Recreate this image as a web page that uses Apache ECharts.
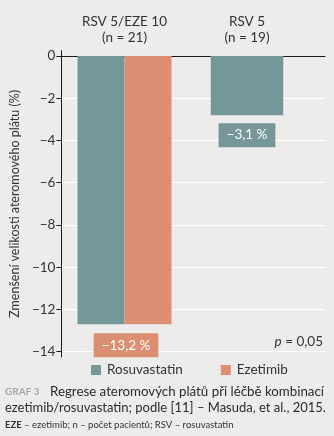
<!DOCTYPE html>
<html>
<head>
<meta charset="utf-8">
<script src="https://cdn.jsdelivr.net/npm/echarts@6/dist/echarts.min.js"></script>
<style>
html,body{margin:0;padding:0;background:#eeeceb;}
#c{width:334px;height:436px;}
</style>
</head>
<body>
<div id="c"></div>
<script>
const categories = ['RSV 5/EZE 10', 'RSV 5'];
const groupSizes = ['(n = 21)', '(n = 19)'];
const rosuvastatin = [-12.7, -2.8];
const ezetimib = [-12.7, null];
const valueLabels = ['−13,2 %', '−3,1 %'];
const yTicks = [0, -2, -4, -6, -8, -10, -12, -14];
const pValue = '0,05';

const TEAL = '#76979a';
const SALMON = '#dc8e72';
const FONT = 'Lato';
const yMin = -14.25, yMax = 0.25;
const gridTop = 50.7, gridBottom = 79;

const chart = echarts.init(document.getElementById('c'));
const minus = v => String(v).replace('-', '−');

chart.setOption({
  backgroundColor: '#eeeceb',
  textStyle: {fontFamily: FONT},
  animation: false,
  grid: [
    {left: 60, right: 9, top: gridTop, bottom: gridBottom, containLabel: false},
    {left: 63.25, right: 25.75, top: gridTop, bottom: gridBottom, containLabel: false}
  ],
  xAxis: [
    {gridIndex: 0, type: 'category', data: categories,
     axisLine: {onZero: true, lineStyle: {color: '#1a1a1a', width: 1}},
     axisTick: {show: false}, axisLabel: {show: false}, splitLine: {show: false}},
    {gridIndex: 1, type: 'category', data: categories, position: 'top',
     axisLine: {show: false}, axisTick: {show: false},
     axisLabel: {margin: 5, color: '#333', fontSize: 13.5, lineHeight: 16, fontFamily: FONT,
       formatter: (v, i) => v + '\n' + groupSizes[i]}},
    {gridIndex: 1, type: 'category', data: categories, show: false}
  ],
  yAxis: [
    {gridIndex: 0, type: 'value', min: yMin, max: yMax,
     name: 'Zmenšení velikosti ateromového plátu (%)', nameLocation: 'middle', nameGap: 39,
     nameTextStyle: {fontSize: 12.5, color: '#333', fontFamily: FONT},
     axisLine: {show: true, onZero: false, lineStyle: {color: '#1a1a1a', width: 1}},
     axisTick: {show: true, customValues: yTicks, length: 5, lineStyle: {color: '#1a1a1a'}},
     axisLabel: {customValues: yTicks, formatter: minus, color: '#333', fontSize: 13.5, margin: 6, fontFamily: FONT},
     splitLine: {show: true, lineStyle: {color: '#ffffff', width: 1}}},
    {gridIndex: 1, type: 'value', min: yMin, max: yMax, show: false, splitLine: {show: false}}
  ],
  legend: {
    data: ['Rosuvastatin', 'Ezetimib'],
    left: 86, top: 358, icon: 'rect', itemWidth: 10, itemHeight: 10, itemGap: 38,
    textStyle: {fontSize: 13.5, color: '#333', fontFamily: FONT, padding: [0, 0, 0, 1]},
    selectedMode: false
  },
  series: [
    {name: 'Rosuvastatin', type: 'bar', xAxisIndex: 1, yAxisIndex: 1,
     data: [rosuvastatin[0], '-'], barWidth: 47, barGap: '0%',
     itemStyle: {color: TEAL}},
    {name: 'Ezetimib', type: 'bar', xAxisIndex: 1, yAxisIndex: 1,
     data: [ezetimib[0], '-'], barWidth: 47, barGap: '0%',
     itemStyle: {color: SALMON},
     label: {show: true, position: 'bottom', distance: 9, offset: [-22, 0],
       formatter: p => valueLabels[p.dataIndex],
       color: '#fff', fontSize: 13.5, fontFamily: FONT,
       backgroundColor: SALMON, padding: [5, 8, 5, 8]}},
    {name: 'Rosuvastatin', type: 'bar', xAxisIndex: 2, yAxisIndex: 1,
     data: ['-', rosuvastatin[1]], barWidth: 72.5,
     itemStyle: {color: TEAL},
     label: {show: true, position: 'bottom', distance: 8,
       formatter: p => valueLabels[p.dataIndex],
       color: '#fff', fontSize: 13.5, fontFamily: FONT,
       backgroundColor: TEAL, padding: [5, 8, 5, 8]}}
  ],
  graphic: [
    {type: 'text', right: 11, top: 335,
     style: {rich: {i: {fontStyle: 'italic', fontSize: 13.5, fill: '#333', fontFamily: FONT},
                    n: {fontSize: 13.5, fill: '#333', fontFamily: FONT}},
             text: '{i|p}{n| = ' + pValue + '}'}},
    {type: 'text', left: 5, top: 387,
     style: {text: 'GRAF 3', fill: '#a9a7a6', font: 'bold 10px ' + FONT}},
    {type: 'text', left: 50, top: 385,
     style: {text: 'Regrese ateromových plátů při léčbě kombinací', fill: '#2b2b2b', font: '13.3px ' + FONT}},
    {type: 'text', left: 5, top: 401,
     style: {text: 'ezetimib/rosuvastatin; podle [11] – Masuda, et al., 2015.', fill: '#2b2b2b', font: '13px ' + FONT}},
    {type: 'text', left: 5, top: 420,
     style: {rich: {b: {fontWeight: 'bold', fontSize: 9.5, fill: '#333', fontFamily: FONT},
                    n: {fontSize: 9.5, fill: '#333', fontFamily: FONT}},
             text: '{b|EZE}{n| – ezetimib; n – počet pacientů; RSV – rosuvastatin}'}}
  ]
});
</script>
</body>
</html>
